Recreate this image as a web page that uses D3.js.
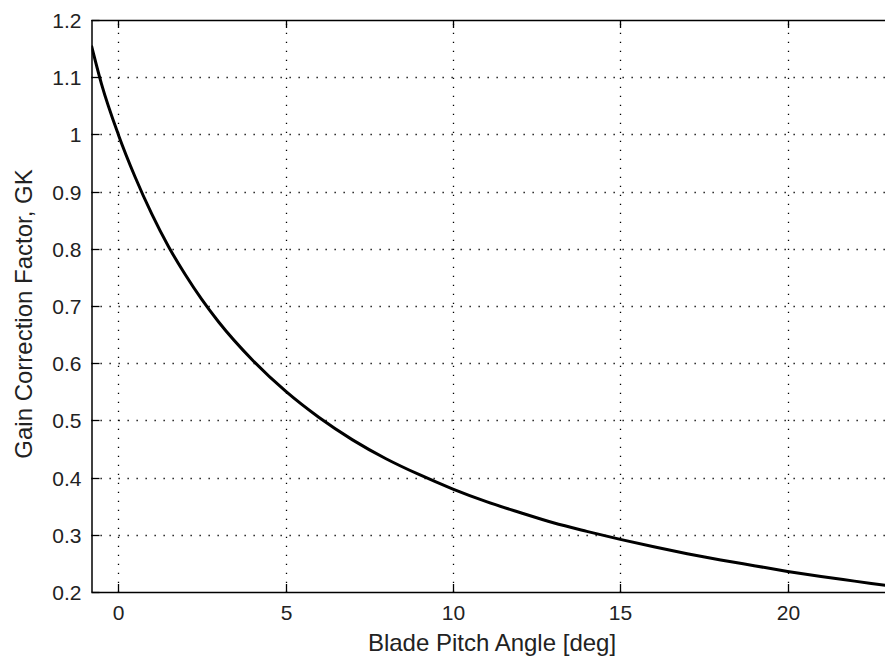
<!DOCTYPE html>
<html>
<head>
<meta charset="utf-8">
<script src="https://cdn.jsdelivr.net/npm/d3@7"></script>
<style>
  body { margin: 0; background: #fff; }
  svg { display: block; }
  .tick-label { font-family: "Liberation Sans", Arial, sans-serif; font-size: 21px; fill: #222; }
  .axis-title { font-family: "Liberation Sans", Arial, sans-serif; font-size: 24px; fill: #222; }
  .grid-line { stroke: #000; stroke-width: 1.3; stroke-dasharray: 1.3,7.7; }
</style>
</head>
<body>
<svg id="chart" width="885" height="658"></svg>
<script>
// pitch angle [deg] and gain correction factor
const pitchAngle = [-0.8, -0.5, 0, 0.5, 1, 1.5, 2, 2.5, 3, 4, 5, 6, 7, 8, 9, 10, 11, 12, 13, 14, 15, 16, 17, 18, 19, 20, 21, 22, 23];
const gainFactor = [1.155, 1.088, 1.0, 0.926, 0.861, 0.804, 0.755, 0.711, 0.672, 0.606, 0.551, 0.505, 0.466, 0.433, 0.405, 0.38, 0.358, 0.339, 0.321, 0.306, 0.292, 0.279, 0.267, 0.256, 0.246, 0.236, 0.227, 0.219, 0.211];
const xTicks = [0, 5, 10, 15, 20];
const yTicks = [0.2, 0.3, 0.4, 0.5, 0.6, 0.7, 0.8, 0.9, 1, 1.1, 1.2];

const svg = d3.select("#chart");
const margin = { left: 91.5, right: 888, top: 20, bottom: 592 };
const tickLen = 8;

const x = d3.scaleLinear().domain([-0.8, 23]).range([margin.left, margin.right]);
const y = d3.scaleLinear().domain([0.2, 1.2]).range([margin.bottom, margin.top]);

svg.append("defs").append("clipPath").attr("id", "plot-clip")
    .append("rect")
    .attr("x", margin.left).attr("y", margin.top)
    .attr("width", margin.right - margin.left)
    .attr("height", margin.bottom - margin.top);

// grid
const grid = svg.append("g");
grid.selectAll(".gx").data(xTicks).enter().append("line")
    .attr("class", "grid-line")
    .attr("x1", d => Math.round(x(d)) + 0.5).attr("x2", d => Math.round(x(d)) + 0.5)
    .attr("y1", margin.bottom).attr("y2", margin.top);
grid.selectAll(".gy").data(yTicks.filter(d => d > 0.2 && d < 1.2)).enter().append("line")
    .attr("class", "grid-line")
    .attr("y1", d => Math.round(y(d)) + 0.5).attr("y2", d => Math.round(y(d)) + 0.5)
    .attr("x1", margin.left).attr("x2", margin.right);

// curve
const line = d3.line()
    .x((d, i) => x(pitchAngle[i]))
    .y(d => y(d))
    .curve(d3.curveMonotoneX);

svg.append("path")
    .datum(gainFactor)
    .attr("clip-path", "url(#plot-clip)")
    .attr("d", line)
    .attr("fill", "none")
    .attr("stroke", "#000")
    .attr("stroke-width", 3);

// frame
svg.append("line")
    .attr("x1", margin.left + 0.5).attr("x2", margin.left + 0.5)
    .attr("y1", margin.top).attr("y2", margin.bottom)
    .attr("stroke", "#000").attr("stroke-width", 1.5);
svg.append("line")
    .attr("x1", margin.left).attr("x2", margin.right)
    .attr("y1", margin.bottom + 0.5).attr("y2", margin.bottom + 0.5)
    .attr("stroke", "#000").attr("stroke-width", 1.5);
svg.append("line")
    .attr("x1", margin.left).attr("x2", margin.right)
    .attr("y1", margin.top + 0.5).attr("y2", margin.top + 0.5)
    .attr("stroke", "#000").attr("stroke-width", 1.5);

// x ticks
const xt = svg.append("g");
xTicks.forEach(d => {
    const px = Math.round(x(d)) + 0.5;
    xt.append("line").attr("x1", px).attr("x2", px)
        .attr("y1", margin.bottom).attr("y2", margin.bottom - tickLen)
        .attr("stroke", "#000").attr("stroke-width", 1.3);
    xt.append("line").attr("x1", px).attr("x2", px)
        .attr("y1", margin.top).attr("y2", margin.top + tickLen)
        .attr("stroke", "#000").attr("stroke-width", 1.3);
    xt.append("text").attr("class", "tick-label")
        .attr("x", px).attr("y", margin.bottom + 28)
        .attr("text-anchor", "middle")
        .text(d);
});

// y ticks
const yt = svg.append("g");
yTicks.forEach(d => {
    const py = Math.round(y(d)) + 0.5;
    yt.append("line").attr("x1", margin.left).attr("x2", margin.left + tickLen)
        .attr("y1", py).attr("y2", py)
        .attr("stroke", "#000").attr("stroke-width", 1.3);
    yt.append("text").attr("class", "tick-label")
        .attr("x", margin.left - 10).attr("y", py + 7.5)
        .attr("text-anchor", "end")
        .text(d3.format("")(d));
});

// axis titles
svg.append("text").attr("class", "axis-title")
    .attr("x", 492)
    .attr("y", 651)
    .attr("text-anchor", "middle")
    .text("Blade Pitch Angle [deg]");

svg.append("text").attr("class", "axis-title")
    .attr("transform", "translate(32, 314) rotate(-90)")
    .attr("text-anchor", "middle")
    .text("Gain Correction Factor, GK");
</script>
</body>
</html>
